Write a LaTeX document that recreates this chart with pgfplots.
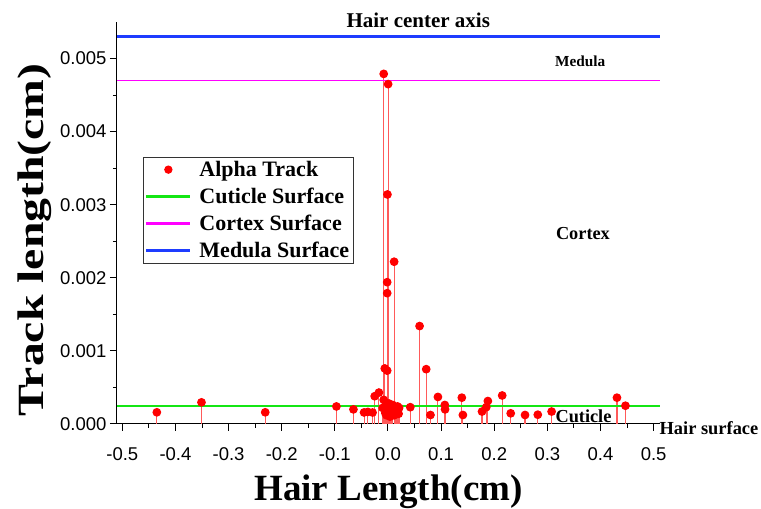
\documentclass[border=0pt]{standalone}
\usepackage{fontspec}
\setmainfont{Liberation Serif}
\newfontfamily\arial{Liberation Sans}
\usepackage{pgfplots}
\pgfplotsset{compat=1.18}
\usetikzlibrary{calc}

\definecolor{cutgreen}{RGB}{20,230,20}
\definecolor{cortmag}{RGB}{255,0,255}
\definecolor{medblue}{RGB}{30,60,255}
\definecolor{stemred}{RGB}{255,90,90}

\begin{document}
\begin{tikzpicture}
\begin{axis}[
    scale only axis,
    width=543pt, height=402pt,
    xmin=-0.51, xmax=0.512,
    ymin=0, ymax=0.0055,
    axis lines*=left,
    axis line style={-, line width=1pt},
    tick align=outside,
    major tick length=7pt, minor tick length=4pt,
    tick style={black, line width=1pt},
    xtick={-0.5,-0.4,...,0.5},
    ytick={0,0.001,...,0.005},
    minor x tick num=1, minor y tick num=1,
    scaled y ticks=false,
    xticklabel style={yshift=-13pt, /pgf/number format/.cd, fixed, fixed zerofill, precision=1},
    yticklabel style={/pgf/number format/.cd, fixed, fixed zerofill, precision=3},
    /pgf/number format/assume math mode=true,
    tick label style={font=\arial\fontsize{18.5}{20}\selectfont},
    xlabel={\bfseries Hair Length(cm)},
    ylabel={\bfseries\scalebox{1.29}[1]{Track length(cm)}},
    label style={font=\fontsize{37}{40}\selectfont},
    xlabel style={yshift=-7pt},
    ylabel style={at={(ticklabel cs:0.458)}, yshift=2pt},
    clip=false,
    legend cell align=left,
    legend style={at={(rel axis cs:0.048,0.664)}, anchor=north west,
        font=\bfseries\fontsize{22}{24}\selectfont, draw=black!80,
        row sep=6pt, inner xsep=2pt, inner ysep=2pt},
    legend image code/.code={\draw[#1] (0pt,0pt) -- (44pt,0pt); \path (50pt,0pt);},
    legend image post style={line width=2.2pt},
]
\coordinate (bl) at (rel axis cs:0,0);
\coordinate (tr) at (rel axis cs:1,1);

\addplot[ycomb, draw=stemred, line width=1.1pt, mark=*, mark size=3.8pt,
    mark options={draw=red, fill=red}, forget plot] coordinates {
(-0.435,0.00016) (-0.351,0.000296) (-0.231,0.00016) (-0.097,0.00024)
(-0.065,0.0002) (-0.045,0.000158) (-0.038,0.000165) (-0.029,0.000157)
(-0.025,0.00038) (-0.017,0.00043) (-0.010,0.00022) (-0.008,0.00479)
(-0.008,0.00033) (-0.006,0.00076) (-0.005,0.00015) (-0.004,0.00025)
(-0.003,0.00012) (-0.0015,0.00194) (-0.0015,0.00179) (-0.0015,0.00073)
(-0.001,0.00314) (0.0003,0.00465) (0.001,0.00018) (0.002,0.00028)
(0.004,0.00010) (0.005,0.00022) (0.007,0.00016) (0.009,0.00026)
(0.0116,0.00222) (0.012,0.00012) (0.014,0.00021) (0.016,0.00017)
(0.018,0.00024) (0.020,0.00014) (0.021,0.00022) (0.042,0.00023)
(0.0595,0.00134) (0.072,0.00075) (0.080,0.000123) (0.094,0.00037)
(0.107,0.00026) (0.1075,0.0002) (0.139,0.00036) (0.141,0.000123)
(0.177,0.00017) (0.185,0.00023) (0.188,0.000314) (0.215,0.00039)
(0.231,0.000146) (0.258,0.000123) (0.282,0.000127) (0.308,0.00017)
(0.431,0.00036) (0.447,0.00025)
};
\addlegendimage{legend image code/.code={\fill[red] (22pt,0pt) circle (3pt); \path (0pt,0pt) (50pt,0pt);}}
\addlegendentry{Alpha Track}

\addplot[cutgreen, line width=2.4pt] coordinates {(-0.51,0.00025) (0.512,0.00025)};
\addlegendentry{Cuticle Surface}
\addplot[cortmag, line width=1.8pt] coordinates {(-0.51,0.0047) (0.512,0.0047)};
\addlegendentry{Cortex Surface}
\addplot[medblue, line width=2.6pt] coordinates {(-0.51,0.0053) (0.512,0.0053)};
\addlegendentry{Medula Surface}

\node[font=\bfseries\fontsize{21}{23}\selectfont] at (axis cs:0.057,0.00552) {Hair center axis};
\node[font=\bfseries\fontsize{15.3}{17}\selectfont] at (axis cs:0.362,0.00496) {Medula};
\node[font=\bfseries\fontsize{18.3}{20}\selectfont] at (axis cs:0.367,0.0026) {Cortex};
\node[font=\bfseries\fontsize{18.3}{20}\selectfont] at (axis cs:0.368,0.0001) {Cuticle};
\node[font=\bfseries\fontsize{18.4}{20}\selectfont, anchor=west, inner xsep=0pt] at (axis cs:0.511,-0.00006) {Hair surface};
\end{axis}
\pgfresetboundingbox
\useasboundingbox ($(bl)+(-117pt,-85pt)$) rectangle ($(tr)+(101pt,22pt)$);
\end{tikzpicture}
\end{document}
